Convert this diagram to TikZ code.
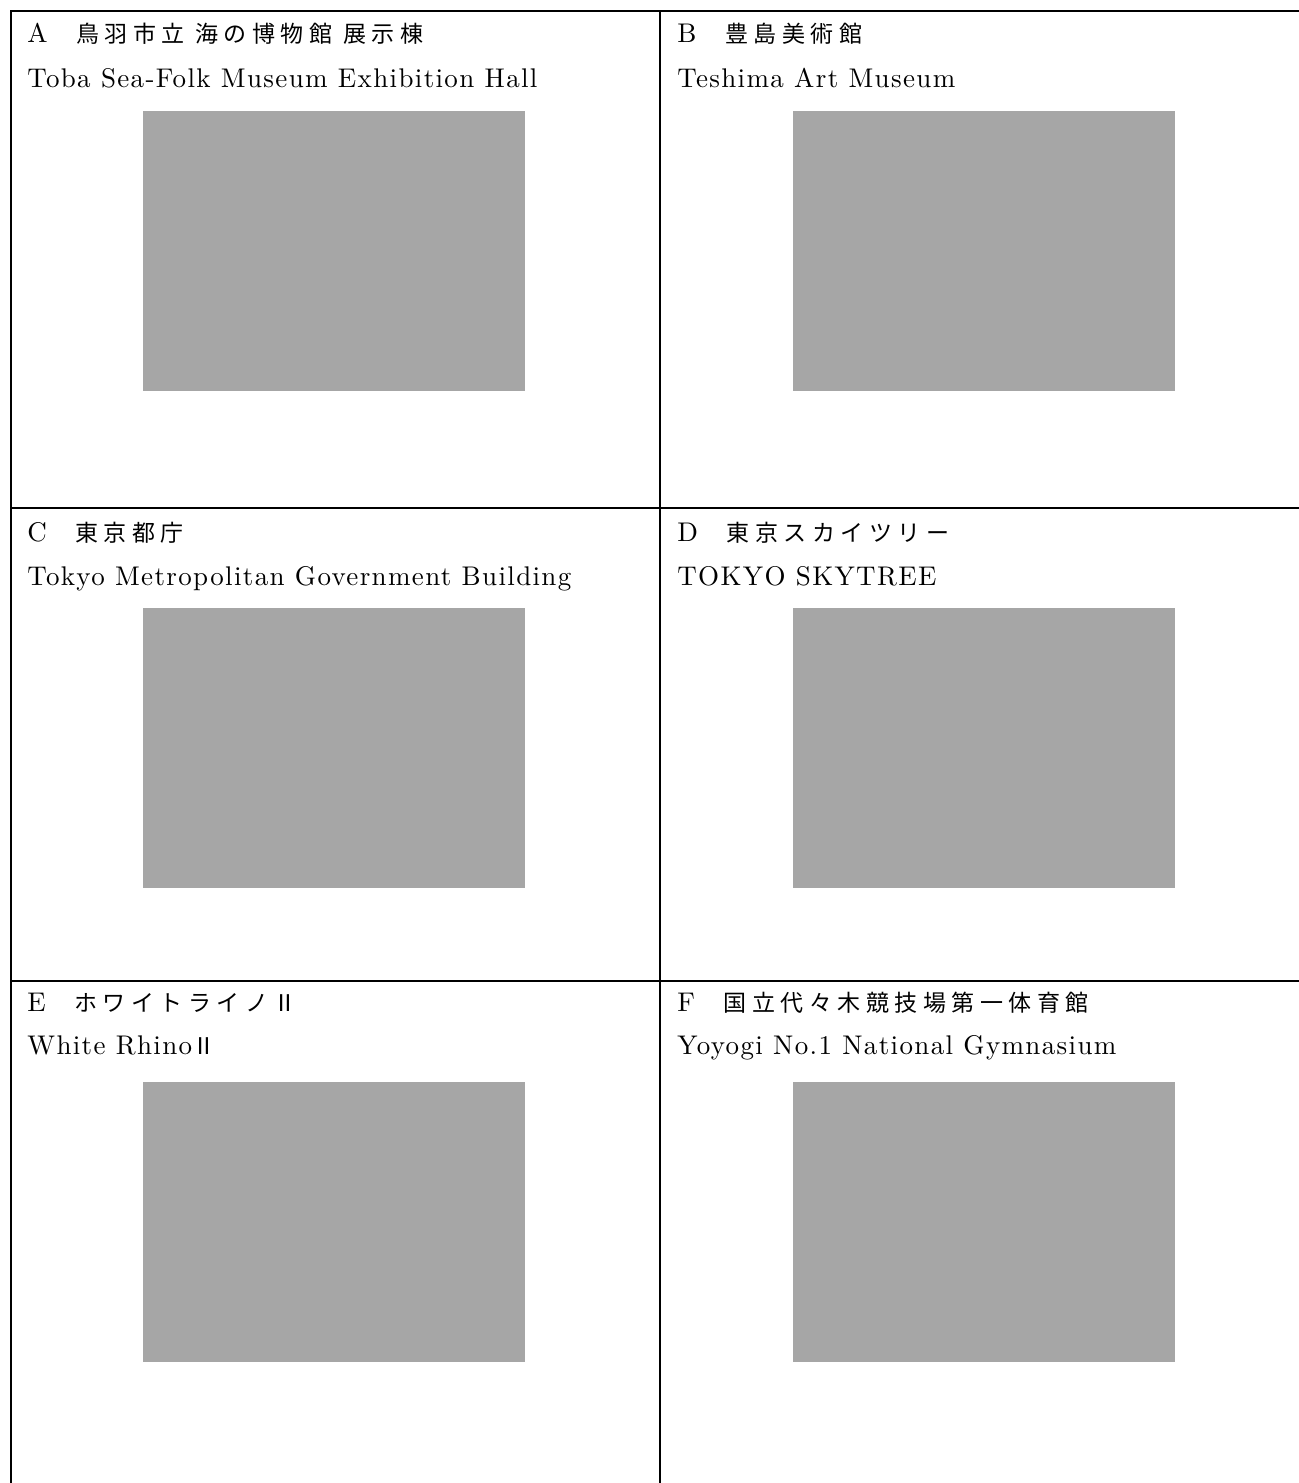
\documentclass[tikz,border=0pt]{standalone}
\usepackage{fontspec}
\setmainfont{lmroman10-regular}[Extension=.otf, LetterSpace=5]
\newfontfamily\jp{Noto Sans CJK JP}[LetterSpace=24]
\newcommand{\ja}[1]{{\jp\fontsize{11.5}{14}\selectfont#1}}

\begin{document}
\begin{tikzpicture}[x=0.5pt, y=-0.5pt,
	rule/.style={line width=1.3pt},
	caption/.style={anchor=base west, inner sep=0pt, font=\fontsize{13.5}{15}\selectfont},
	photo/.style={anchor=north west, inner sep=0pt, fill=black!35, minimum width=191pt, minimum height=140pt}]
	%%%%% START %%%%%
	\useasboundingbox (0, 0) rectangle (1299, 1483);
	
	% table rules
	\draw[rule] (11, 1483) -- (11, 11) -- (1299, 11);
	\draw[rule] (660, 11) -- (660, 1483);
	\draw[rule] (11, 508) -- (1299, 508);
	\draw[rule] (11, 981) -- (1299, 981);
	
	% row 1
	\node[caption] (titleA) at (27, 42) {A\ja{　鳥羽市立 海の博物館 展示棟}};
	\node[caption] (nameA) at (27, 87) {Toba Sea-Folk Museum Exhibition Hall};
	\node[photo] (photoA) at (143, 111) {};
	
	\node[caption] (titleB) at (677, 42) {B\ja{　豊島美術館}};
	\node[caption] (nameB) at (677, 87) {Teshima Art Museum};
	\node[photo] (photoB) at (793, 111) {};
	
	% row 2
	\node[caption] (titleC) at (27, 541) {C\ja{　東京都庁}};
	\node[caption] (nameC) at (27, 585) {Tokyo Metropolitan Government Building};
	\node[photo] (photoC) at (143, 608) {};
	
	\node[caption] (titleD) at (677, 541) {D\ja{　東京スカイツリー}};
	\node[caption] (nameD) at (677, 585) {TOKYO SKYTREE};
	\node[photo] (photoD) at (793, 608) {};
	
	% row 3
	\node[caption] (titleE) at (27, 1011) {E\ja{　ホワイトライノⅡ}};
	\node[caption] (nameE) at (27, 1054) {White Rhino\ja{Ⅱ}};
	\node[photo] (photoE) at (143, 1082) {};
	
	\node[caption] (titleF) at (677, 1011) {F\ja{　国立代々木競技場第一体育館}};
	\node[caption] (nameF) at (677, 1054) {Yoyogi No.1 National Gymnasium};
	\node[photo] (photoF) at (793, 1082) {};
	
	%%%%% END %%%%%
\end{tikzpicture}
\end{document}
